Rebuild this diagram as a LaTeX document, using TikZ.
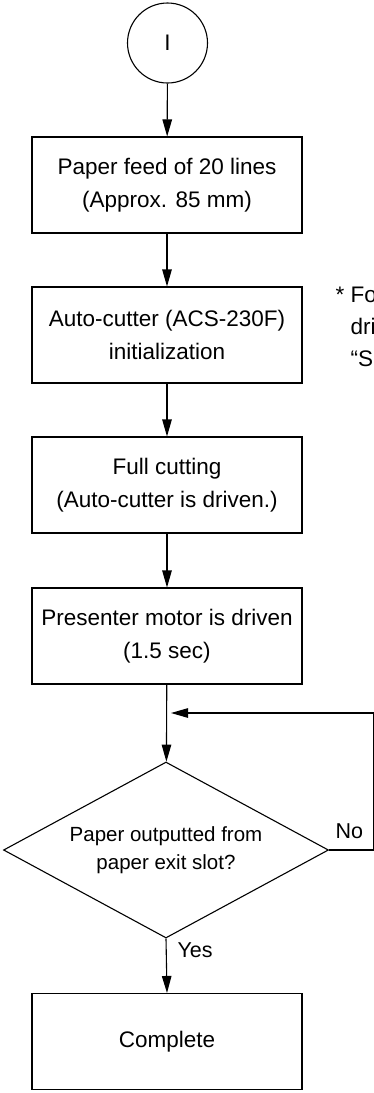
\documentclass[tikz,border=0pt]{standalone}
\usepackage{fontspec}
\setmainfont{Liberation Sans}
\usetikzlibrary{arrows.meta,shapes.geometric,positioning}

\tikzset{
  proc/.style={draw, line width=1.1pt, minimum width=270pt, minimum height=96pt,
    align=center, font=\fontsize{22.5}{33}\selectfont},
  decision/.style={draw, diamond, line width=1.1pt, shape aspect=1.85, inner sep=0pt,
    minimum width=325pt, minimum height=176pt, align=center,
    font=\fontsize{20.5}{28}\selectfont},
  lbl/.style={anchor=base west, inner sep=0pt, font=\fontsize{21.5}{26}\selectfont}
}

\begin{document}
\begin{tikzpicture}[x=1pt,y=-1pt,line width=1.1pt,>={Triangle[length=17pt,width=9.5pt]}]
\useasboundingbox (0,0) rectangle (374,1093);

% start
\node[draw, circle, minimum size=80pt, inner sep=0pt, font=\fontsize{22.5}{27}\selectfont] (start) at (167.5,43) {I};

% kroky
\node[proc] (feed) at (167,185) {Paper feed of 20 lines\\(Approx. 85 mm)};
\node[proc] (init) at (167,335) {Auto-cutter (ACS-230F)\\initialization};
\node[proc] (cut) at (167,485) {Full cutting\\(Auto-cutter is driven.)};
\node[proc] (motor) at (167,636) {Presenter motor is driven\\(1.5 sec)};
\node[decision] (exit) at (166,850) {Paper outputted from\\paper exit slot?};
\node[proc] (done) at (167,1041.5) {Complete};

% poznamka (oriznuta)
\node[anchor=north west, inner sep=0pt, align=left, font=\fontsize{22.5}{32}\selectfont] (note) at (335,286)
  {*~Fo\\\phantom{*~}dri\\\phantom{*~}“Sp};

%% sipky
\draw[->] (start) -- (feed);
\draw[->] (feed) -- (init);
\draw[->] (init) -- (cut);
\draw[->] (cut) -- (motor);
\draw[->] (motor) -- (exit);

% smycka (No)
\coordinate (back) at (171,713);
\draw[->] (exit.east) -- ++(44,0) |- (back);
\node[lbl] (no) at ([xshift=6pt,yshift=12pt]exit.east) {No};

% Yes
\draw[->] (exit.south) -- (done.north);
\node[lbl] (yes) at ([xshift=11pt,yshift=-19pt]exit.south) {Yes};

\end{tikzpicture}
\end{document}
